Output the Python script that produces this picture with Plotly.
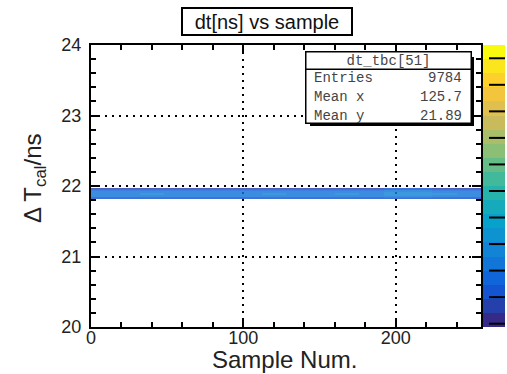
import numpy as np
import plotly.graph_objects as go

# ---------------- data ----------------
n_samples = 256                                   # x bins: Sample Num. 0..256
y_bin_lo, y_bin_w = 21.80, 0.01                   # y bins of the band (ns)
# mean counts per y bin across the band (bottom -> top), None = empty
y_profile = [None, None, 0.9, 1.2, 1.5, 1.8, 2.0, 2.1, 2.1, 2.1,
             2.0, 1.9, 1.8, 1.6, 1.3, 1.0, 0.8, None, None, None]
# relative density of the band in 16 blocks of 16 samples
block_factor = [1.0, 1.0, 1.05, 1.0, 0.95, 1.0, 1.0, 1.05,
                1.0, 1.0, 1.05, 1.0, 1.1, 1.1, 1.05, 1.0]
stats_title = "dt_tbc[51]"
stats_labels = ["Entries", "Mean x", "Mean y"]
stats_values = ["9784", "125.7", "21.89"]
title_text = "dt[ns] vs sample"
z_min, z_max = 0.0, 8.5
cbar_ticks = [0.1, 0.9, 1.7, 2.5, 3.3, 4.1, 4.9, 5.7, 6.5, 7.3, 8.1]

# ---------------- build histogram matrix ----------------
x_centers = np.arange(n_samples) + 0.5
y_centers = y_bin_lo + y_bin_w * (np.arange(len(y_profile)) + 0.5)
col_f = np.repeat(block_factor, n_samples // len(block_factor))
z = []
for p in y_profile:
    z.append([None if p is None else p * f for f in col_f])

# ROOT kBird palette, 20 contour levels
stops = np.linspace(0, 1, 9)
R = [0.2082, 0.0592, 0.0780, 0.0232, 0.1802, 0.5301, 0.8186, 0.9956, 0.9764]
G = [0.1664, 0.3599, 0.5041, 0.6419, 0.7178, 0.7492, 0.7328, 0.7862, 0.9832]
B = [0.5293, 0.8684, 0.8385, 0.7914, 0.6425, 0.4662, 0.3499, 0.1968, 0.0539]
ncont = 20
cs = []
for k in range(ncont):
    t = k / (ncont - 1)
    c = "rgb(%d,%d,%d)" % tuple(int(round(255 * np.interp(t, stops, a))) for a in (R, G, B))
    cs.append([k / ncont, c])
    cs.append([(k + 1) / ncont, c])
level_centers = z_min + (np.arange(ncont) + 0.5) * (z_max - z_min) / ncont

W, H = 507, 374
L, Rm, T, Bm = 91, 2, 45, 47
pw, ph = W - L - Rm, H - T - Bm
plot_right, cb_left, cb_right = 481, 483, 505
cb_tick_len = 16

def px(xp):
    return (xp - L) / pw

def py(yp):
    return 1 - (yp - T) / ph

fig = go.Figure()
fig.add_trace(go.Heatmap(
    x=x_centers, y=y_centers, z=z, zmin=z_min, zmax=z_max,
    colorscale=cs, zsmooth=False, hoverongaps=False, opacity=0.82,
    showscale=False, xaxis="x", yaxis="y"))
# colour scale drawn as its own small heatmap
fig.add_trace(go.Heatmap(
    x=[0], y=level_centers, z=[[v] for v in level_centers], zmin=z_min, zmax=z_max,
    colorscale=cs, zsmooth=False, showscale=False, hoverinfo="skip",
    xaxis="x2", yaxis="y2"))

axis_common = dict(showline=True, linecolor="black", linewidth=2, mirror="ticks",
                   ticks="inside", tickcolor="black", tickwidth=2, ticklen=9,
                   showgrid=True, gridcolor="black", gridwidth=2, griddash="2px,5px",
                   zeroline=False, layer="above traces",
                   tickfont=dict(family="Liberation Sans", size=18, color="#222"))
fig.update_layout(
    xaxis=dict(domain=[0, px(plot_right)], range=[0, n_samples], tickmode="linear",
               tick0=0, dtick=100, ticklabelstandoff=-7, anchor="y",
               minor=dict(ticks="inside", dtick=20, ticklen=5, tickwidth=2,
                          tickcolor="black", showgrid=False),
               **axis_common),
    yaxis=dict(domain=[0, 1], range=[20, 24], tickmode="linear", tick0=20, dtick=1,
               ticklabelstandoff=4, anchor="x",
               minor=dict(ticks="inside", dtick=0.2, ticklen=5, tickwidth=2,
                          tickcolor="black", showgrid=False),
               **axis_common),
    xaxis2=dict(domain=[px(cb_left), px(cb_right)], range=[-0.5, 0.5], visible=False,
                anchor="y2"),
    yaxis2=dict(domain=[0, 1], range=[z_min, z_max], anchor="x2", visible=False),
)

# colour-scale tick marks drawn as paper-referenced lines on the scale's right side
shapes = []
for tv in cbar_ticks:
    yp = (tv - z_min) / (z_max - z_min)
    shapes.append(dict(type="line", xref="paper", yref="paper", layer="above",
                       x0=px(cb_right - cb_tick_len), x1=px(cb_right), y0=yp, y1=yp,
                       line=dict(color="black", width=2)))

annots = []
# title box
annots.append(dict(text=title_text, xref="paper", yref="paper",
                   x=px(266.5), y=py(21.5), xanchor="center", yanchor="middle",
                   showarrow=False, width=168, height=25,
                   bordercolor="black", borderwidth=2, bgcolor="white", borderpad=0,
                   font=dict(family="Liberation Sans", size=20, color="#111")))
# axis titles
annots.append(dict(text="Sample Num.", xref="paper", yref="paper",
                   x=px(284), y=py(359), xanchor="center", yanchor="middle",
                   showarrow=False,
                   font=dict(family="Liberation Sans", size=24, color="#222")))
annots.append(dict(text="Δ T<sub>cal</sub>/ns", xref="paper", yref="paper",
                   x=px(34), y=py(178), xanchor="center", yanchor="middle",
                   showarrow=False, textangle=-90,
                   font=dict(family="Liberation Sans", size=24, color="#222")))

# stats box (annotations are drawn above the axes and grid)
bx0, bx1, by0, by1, hsep = 306, 470, 53, 122, 69
annots.append(dict(text="", xref="paper", yref="paper",
                   x=px((bx0 + bx1) / 2 + 4), y=py((by0 + by1) / 2 + 4),
                   xanchor="center", yanchor="middle", showarrow=False,
                   width=bx1 - bx0, height=by1 - by0, borderpad=0,
                   bgcolor="black", borderwidth=0))
annots.append(dict(text="", xref="paper", yref="paper",
                   x=px((bx0 + bx1) / 2), y=py((by0 + by1) / 2),
                   xanchor="center", yanchor="middle", showarrow=False,
                   width=bx1 - bx0, height=by1 - by0, borderpad=0,
                   bgcolor="white", bordercolor="black", borderwidth=1.5))
mono = dict(family="Liberation Mono", size=14, color="#444")
annots.append(dict(text=stats_title, xref="paper", yref="paper",
                   x=px((bx0 + bx1) / 2), y=py((by0 + hsep) / 2),
                   xanchor="center", yanchor="middle", showarrow=False,
                   width=bx1 - bx0, height=hsep - by0, borderpad=0,
                   bgcolor="white", bordercolor="black", borderwidth=1.5,
                   font=mono))
for i, (lab, val) in enumerate(zip(stats_labels, stats_values)):
    yc = 78 + i * 19
    annots.append(dict(text=lab, xref="paper", yref="paper", x=px(312), y=py(yc),
                       xanchor="left", yanchor="middle", showarrow=False, font=mono))
    annots.append(dict(text=val, xref="paper", yref="paper", x=px(464), y=py(yc),
                       xanchor="right", yanchor="middle", showarrow=False, font=mono))

fig.update_layout(width=W, height=H,
                  margin=dict(l=L, r=Rm, t=T, b=Bm, autoexpand=False),
                  paper_bgcolor="white", plot_bgcolor="white",
                  shapes=shapes, annotations=annots, showlegend=False)
fig.write_html("out.html")
